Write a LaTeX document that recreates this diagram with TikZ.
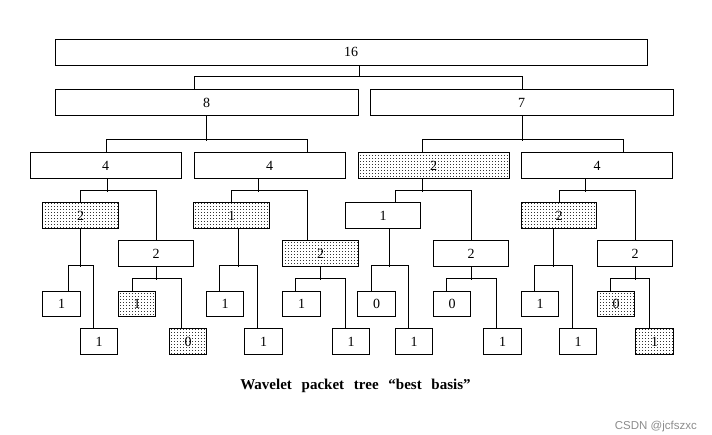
\documentclass[tikz,border=0pt]{standalone}
\usepackage{fontspec}
\setmainfont{Liberation Serif}
\newfontfamily\wmfont{Liberation Sans}
\usetikzlibrary{patterns}
\pgfdeclarepatternformonly{stipple}{\pgfqpoint{-1pt}{-1pt}}{\pgfqpoint{1pt}{1pt}}{\pgfqpoint{3pt}{3pt}}%
  {\pgfpathrectangle{\pgfqpoint{-0.5pt}{-0.5pt}}{\pgfqpoint{1pt}{1pt}}\pgfusepath{fill}}
\tikzset{
  box/.style={draw, line width=0.9pt, inner sep=0pt, minimum height=25.5pt,
    font=\fontsize{14}{16}\selectfont, fill=white},
  shaded/.style={box, pattern=stipple, pattern color=black!80},
  wbig/.style={minimum width=592pt, minimum height=26pt},
  whalf/.style={minimum width=303pt},
  wquart/.style={minimum width=151pt},
  weight/.style={minimum width=75.5pt},
  wleaf/.style={minimum width=37.5pt},
  link/.style={draw, line width=0.9pt},
}
% parent, parent xshift, parent drop, left, left xshift, right, right xshift, rise
\newcommand\tconn[8]{%
  \draw[link] ([xshift=#5pt]#4.north) -- ++(0,-#8) -| ([xshift=#7pt]#6.north);
  \draw[link] ([xshift=#2pt]#1.south) -- ++(0,#3);
}
\begin{document}
\begin{tikzpicture}[x=1pt,y=-1pt]
\useasboundingbox (0,0) rectangle (712,435);
% level 0
\node[box,wbig] (n16) at (351,52) {16};
% level 1
\node[box,whalf] (n8) at (206.5,102.5) {8};
\node[box,whalf] (n7) at (521.5,102.5) {7};
% level 2
\node[box,wquart] (a4) at (105.5,165.5) {4};
\node[box,wquart] (b4) at (269.5,165.5) {4};
\node[shaded,wquart] (c2s) at (433.5,165.5) {2};
\node[box,wquart] (d4) at (597,165.5) {4};
% level 3a
\node[shaded,weight] (a2s) at (80.5,215.5) {2};
\node[shaded,weight] (b1s) at (231.5,215.5) {1};
\node[box,weight] (c1) at (383,215.5) {1};
\node[shaded,weight] (d2s) at (559,215.5) {2};
% level 3b
\node[box,weight] (a2) at (156,253.5) {2};
\node[shaded,weight] (b2s) at (320.5,253.5) {2};
\node[box,weight] (c2) at (471,253.5) {2};
\node[box,weight] (d2) at (635,253.5) {2};
% level 4a
\node[box,wleaf] (aL) at (61.5,304) {1};
\node[shaded,wleaf] (bL) at (137,304) {1};
\node[box,wleaf] (cL) at (225,304) {1};
\node[box,wleaf] (dL) at (301.5,304) {1};
\node[box,wleaf] (eL) at (376.5,304) {0};
\node[box,wleaf] (fL) at (452,304) {0};
\node[box,wleaf] (gL) at (540,304) {1};
\node[shaded,wleaf] (hL) at (616,304) {0};
% level 4b
\node[box,wleaf] (aR) at (99,341.5) {1};
\node[shaded,wleaf] (bR) at (188,341.5) {0};
\node[box,wleaf] (cR) at (263.5,341.5) {1};
\node[box,wleaf] (dR) at (351,341.5) {1};
\node[box,wleaf] (eR) at (414,341.5) {1};
\node[box,wleaf] (fR) at (502.5,341.5) {1};
\node[box,wleaf] (gR) at (578,341.5) {1};
\node[shaded,wleaf] (hR) at (654.5,341.5) {1};
% connectors
\tconn{n16}{8}{12}{n8}{-12.5}{n7}{0.5}{13}
\tconn{n8}{0}{25}{a4}{0.5}{b4}{37.5}{13}
\tconn{n7}{0.5}{25}{c2s}{-11.5}{d4}{26}{13}
\tconn{a4}{1.5}{13}{a2s}{0}{a2}{0}{12}
\tconn{b4}{-11.5}{13}{b1s}{0}{b2s}{-13.5}{12}
\tconn{c2s}{-11.5}{13}{c1}{12}{c2}{0}{12}
\tconn{d4}{-12}{13}{d2s}{0}{d2}{0}{12}
\tconn{a2s}{0}{38}{aL}{6.5}{aR}{-6}{25}
\tconn{b1s}{6.5}{38}{cL}{-6}{cR}{-6.5}{25}
\tconn{c1}{6}{38}{eL}{-5.5}{eR}{-6}{25}
\tconn{d2s}{-6}{38}{gL}{-6}{gR}{-6}{25}
\tconn{a2}{0}{13}{bL}{-5}{bR}{-7}{12}
\tconn{b2s}{0}{13}{dL}{-6.5}{dR}{-6}{12}
\tconn{c2}{0}{13}{fL}{-6}{fR}{-6.5}{12}
\tconn{d2}{0}{13}{hL}{-6}{hR}{-5.5}{12}
% caption
\node[font=\fontsize{15}{17}\selectfont\bfseries, inner sep=0pt] (cap) at (355.5,385.5)
  {Wavelet\hspace{0.4em} packet\hspace{0.4em} tree\hspace{0.4em} ``best\hspace{0.4em} basis''};
\node[font=\wmfont\fontsize{11.5}{13}\selectfont, text=black!45, inner sep=0pt, anchor=east] (wm) at (697,427) {CSDN @jcfszxc};
\end{tikzpicture}
\end{document}
